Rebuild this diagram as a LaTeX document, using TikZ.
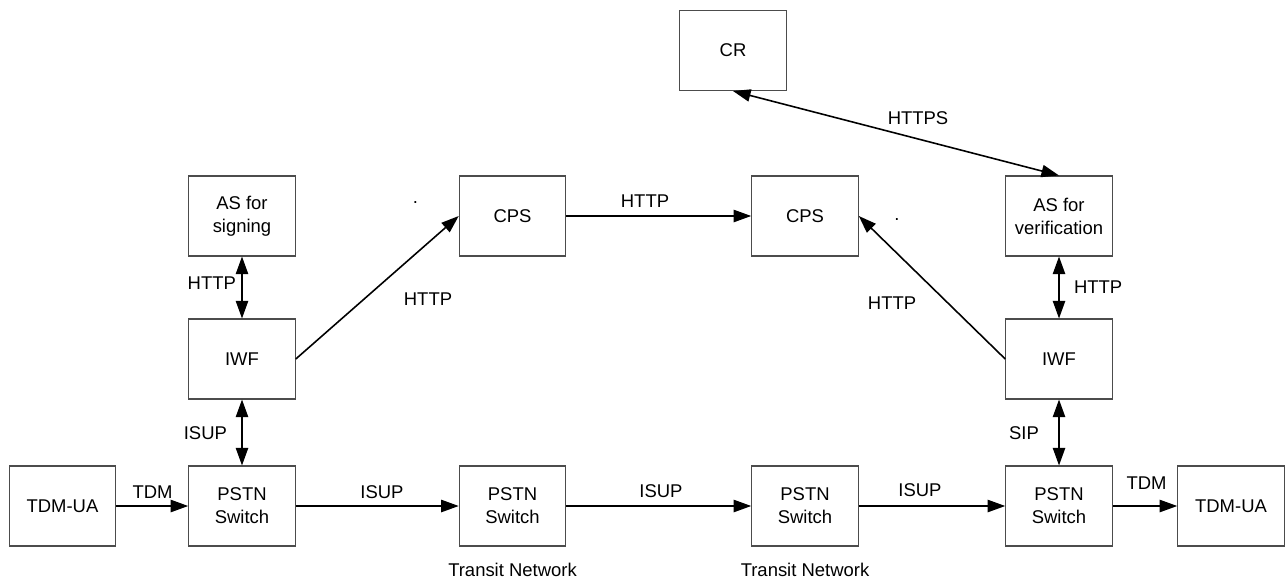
\documentclass[tikz,border=0pt]{standalone}
\usepackage{fontspec}
\setmainfont{Liberation Sans}
\usepackage{tikz}
\usetikzlibrary{arrows.meta,positioning}

\begin{document}
\begin{tikzpicture}[
    font=\fontsize{10.5}{13}\selectfont,
    >={Triangle[length=10pt, width=7pt]},
    every node/.style={align=center},
    box/.style={draw=black!70, line width=0.6pt, fill=white,
      minimum width=2.13cm, minimum height=1.6cm, inner sep=2pt},
    lbl/.style={inner sep=1pt},
    arr/.style={->, line width=0.9pt},
    dbl/.style={<->, line width=0.9pt},
  ]
    \useasboundingbox (0,0) rectangle (25.7,11.62);

    % --- bottom row ---
    \node[box] (uaL)  at (1.25,1.50)  {TDM-UA};
    \node[box] (sw1)  at (4.84,1.50)  {PSTN\\Switch};
    \node[box] (sw2)  at (10.25,1.50) {PSTN\\Switch};
    \node[box] (sw3)  at (16.10,1.50) {PSTN\\Switch};
    \node[box] (sw4)  at (21.18,1.50) {PSTN\\Switch};
    \node[box] (uaR)  at (24.62,1.50) {TDM-UA};

    % --- interworking ---
    \node[box] (iwfL) at (4.84,4.44)  {IWF};
    \node[box] (iwfR) at (21.18,4.44) {IWF};

    % --- servers ---
    \node[box] (asS)  at (4.84,7.30)  {AS for\\signing};
    \node[box] (cpsL) at (10.25,7.30) {CPS};
    \node[box] (cpsR) at (16.10,7.30) {CPS};
    \node[box] (asV)  at (21.18,7.30) {AS for\\verification};
    \node[box] (cr)   at (14.66,10.61) {CR};

    % --- transit labels ---
    \node (tn1) at (10.25,0.22) {Transit Network};
    \node (tn2) at (16.10,0.22) {Transit Network};

    % --- stray dots ---
    \node[lbl] (dot1) at (8.31,7.57) {.};
    \node[lbl] (dot2) at (17.94,7.22) {.};

    % --- bottom chain ---
    \draw[arr] (uaL) -- (sw1);
    \draw[arr] (sw1) -- (sw2);
    \draw[arr] (sw2) -- (sw3);
    \draw[arr] (sw3) -- (sw4);
    \draw[arr] (sw4) -- (uaR);
    \node[lbl] (tdm1)  at (3.05,1.78)  {TDM};
    \node[lbl] (isup1) at (7.64,1.78)  {ISUP};
    \node[lbl] (isup2) at (13.22,1.79) {ISUP};
    \node[lbl] (isup3) at (18.40,1.81) {ISUP};
    \node[lbl] (tdm2)  at (22.93,1.96) {TDM};

    % --- verticals ---
    \draw[dbl] (asS) -- (iwfL);
    \draw[dbl] (iwfL) -- (sw1);
    \draw[dbl] (asV) -- (iwfR);
    \draw[dbl] (iwfR) -- (sw4);
    \node[lbl, anchor=east] (http1) at (4.76,5.96) {HTTP};
    \node[lbl, anchor=east] (isup4) at (4.58,2.96) {ISUP};
    \node[lbl, anchor=west] (http2) at (21.44,5.88) {HTTP};
    \node[lbl, anchor=east] (sip)   at (20.82,2.96) {SIP};

    % --- to the CPS ---
    \draw[arr] (iwfL.east) -- (cpsL.west);
    \draw[arr] (cpsL) -- (cpsR);
    \draw[arr] (iwfR.west) -- (cpsR.east);
    \node[lbl] (http3) at (8.56,5.64)  {HTTP};
    \node[lbl] (http4) at (12.90,7.59) {HTTP};
    \node[lbl] (http5) at (17.84,5.56) {HTTP};

    % --- CR link ---
    \draw[dbl] (cr.south) -- (asV.north);
    \node[lbl] (https) at (18.36,9.26) {HTTPS};
  \end{tikzpicture}
\end{document}
